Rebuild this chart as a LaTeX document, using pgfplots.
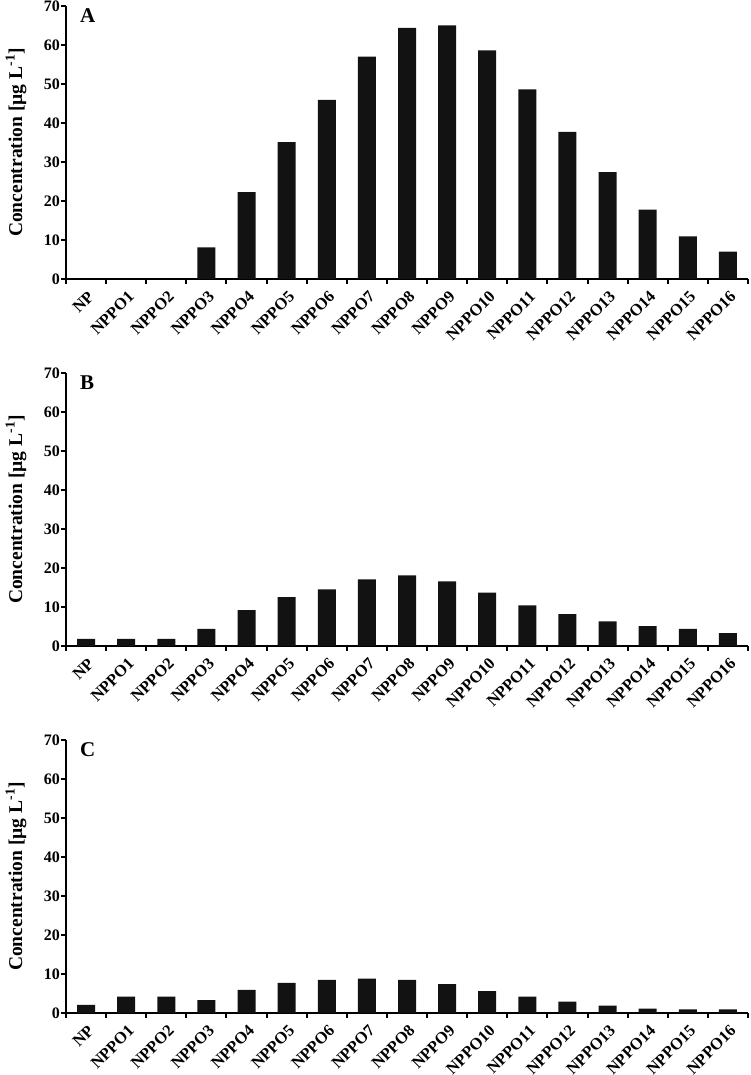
\documentclass[border=0pt]{standalone}
\usepackage{fontspec}
\setmainfont{Liberation Serif}
\usepackage{pgfplots}
\pgfplotsset{compat=1.18}

\pgfplotsset{
  panel/.style={
    scale only axis, width=682pt, height=273pt,
    anchor=south west,
    ybar, bar width=18pt,
    xmin=-0.5, xmax=16.5, ymin=0, ymax=70,
    ytick={0,10,...,70},
    xtick={-0.5,0.5,...,16.5}, xticklabels={},
    extra x ticks={0,1,...,16},
    extra x tick labels={NP,NPPO1,NPPO2,NPPO3,NPPO4,NPPO5,NPPO6,NPPO7,NPPO8,NPPO9,NPPO10,NPPO11,NPPO12,NPPO13,NPPO14,NPPO15,NPPO16},
    extra x tick style={major tick length=0pt,
      xticklabel style={xshift=1pt, yshift=-11pt, rotate=45, anchor=north east, inner sep=0pt,
        font=\bfseries\fontsize{16.5}{16.5}\selectfont}},
    axis x line*=bottom, axis y line*=left,
    axis line style={line width=2.5pt, -},
    tick align=outside, major tick length=5pt,
    tick style={black, line width=2pt},
    /pgf/number format/assume math mode=true,
    yticklabel style={font=\bfseries\fontsize{16}{16}\selectfont, inner sep=1pt},
    ylabel={Concentration [µg L\textsuperscript{-1}]},
    ylabel style={font=\bfseries\fontsize{19.5}{19.5}\selectfont, at={(axis description cs:-0.0733,0.5)}, anchor=center},
    clip=false,
  },
  barsty/.style={fill=black!93, draw=none},
}

\begin{document}
\begin{tikzpicture}
\useasboundingbox (0,0) rectangle (750pt,1075pt);

% Panel A
\begin{axis}[panel, at={(66pt,796pt)}]
\addplot[barsty] coordinates {(0,0) (1,0) (2,0) (3,8.1) (4,22.3) (5,35.1) (6,45.9) (7,57.0) (8,64.4) (9,65.0) (10,58.6) (11,48.6) (12,37.7) (13,27.4) (14,17.8) (15,10.9) (16,7.0)};
\node[anchor=base west, font=\bfseries\fontsize{21}{21}\selectfont, inner sep=0pt] at (axis description cs:0.0205,0.938) {A};
\end{axis}

% Panel B
\begin{axis}[panel, at={(66pt,429pt)}]
\addplot[barsty] coordinates {(0,1.8) (1,1.8) (2,1.8) (3,4.4) (4,9.2) (5,12.5) (6,14.5) (7,17.1) (8,18.1) (9,16.6) (10,13.7) (11,10.4) (12,8.2) (13,6.3) (14,5.1) (15,4.4) (16,3.3)};
\node[anchor=base west, font=\bfseries\fontsize{21}{21}\selectfont, inner sep=0pt] at (axis description cs:0.0205,0.938) {B};
\end{axis}

% Panel C
\begin{axis}[panel, at={(66pt,62pt)}]
\addplot[barsty] coordinates {(0,2.1) (1,4.2) (2,4.2) (3,3.3) (4,5.9) (5,7.7) (6,8.5) (7,8.8) (8,8.5) (9,7.4) (10,5.6) (11,4.2) (12,2.9) (13,1.9) (14,1.1) (15,0.9) (16,0.9)};
\node[anchor=base west, font=\bfseries\fontsize{21}{21}\selectfont, inner sep=0pt] at (axis description cs:0.0205,0.938) {C};
\end{axis}
\end{tikzpicture}
\end{document}
